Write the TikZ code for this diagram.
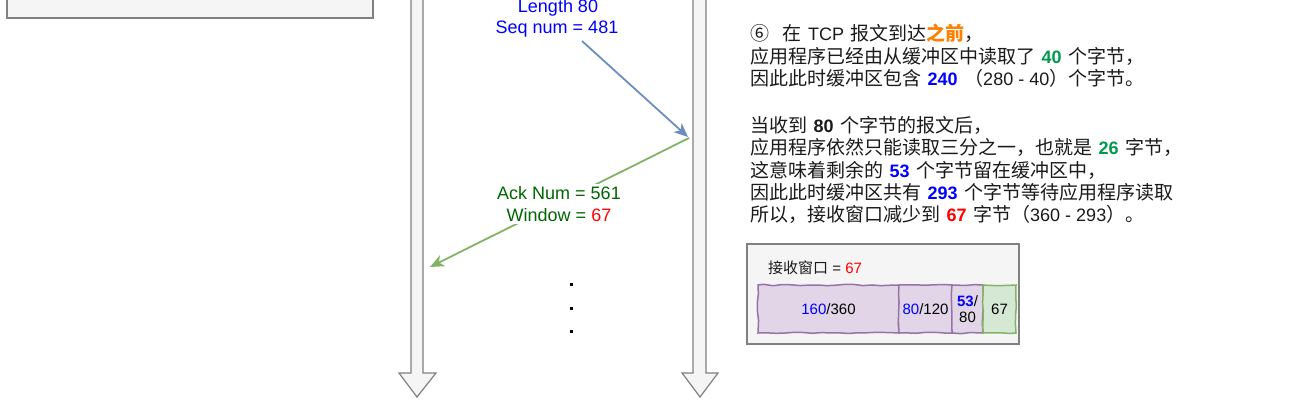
\documentclass[tikz,border=0pt]{standalone}
\usepackage{fontspec}
\setmainfont{Liberation Sans}
\newfontfamily\cjk{Noto Sans CJK SC}
\usetikzlibrary{arrows.meta,decorations.pathmorphing}
\definecolor{lblue}{HTML}{6C8EBF}
\definecolor{lgreen}{HTML}{82B366}
\definecolor{dgreen}{HTML}{006600}
\definecolor{tgreen}{HTML}{00994D}
\definecolor{torange}{HTML}{FF8000}
\definecolor{pfill}{HTML}{E1D5E7}
\definecolor{pdraw}{HTML}{9673A6}
\definecolor{gfill}{HTML}{D5E8D4}
\definecolor{tlfill}{HTML}{F5F5F5}
\definecolor{tldraw}{HTML}{808080}
\definecolor{txt}{HTML}{1A1A1A}
\newcommand\ltn[1]{{\fontsize{18}{22}\selectfont\rmfamily #1}}
\newcommand\hl[2]{{\fontsize{18}{22}\selectfont\color{#1}\rmfamily\bfseries #2}}
\newcommand\gap{\hspace{6.5pt}}
\begin{document}
\begin{tikzpicture}[x=1pt,y=-1pt,
  timeline/.style={fill=tlfill,draw=tldraw,line width=1.2pt,line join=miter},
  msg/.style={line width=1.8pt},
  lbl/.style={font=\fontsize{18}{22}\selectfont, inner sep=0pt, align=center},
  para/.style={anchor=base west, inner sep=0pt, text=txt, font=\fontsize{19}{22}\selectfont\cjk},
  seg/.style={draw=pdraw, fill=pfill, line width=1.5pt, decorate,
    decoration={random steps,segment length=9pt,amplitude=0.7pt},
    inner sep=0pt, font=\fontsize{15}{16}\selectfont, align=center, minimum height=48pt}
]
\pgfmathsetseed{7}
\useasboundingbox (0,0) rectangle (1301,413);
\fill[white] (0,0) rectangle (1301,413);
% top-left box
\draw[fill=tlfill, draw=tldraw, line width=1.2pt] (7,-5) rectangle (373,18);
% timelines
\path[timeline] (411,-5) -- (411,373) -- (399,373) -- (417,397) -- (436,373) -- (423,373) -- (423,-5) -- cycle;
\path[timeline] (693,-5) -- (693,373) -- (682,373) -- (700,397) -- (718,373) -- (706,373) -- (706,-5) -- cycle;
% data segment
\node[lbl, text=blue] (len) at (558,7.5) {Length 80};
\node[lbl, text=blue] (seq) at (557,29) {Seq num = 481};
\coordinate (b1) at (582,41);
\coordinate (b2) at (688,137);
\draw[msg, lblue, -{Stealth[length=14pt,width=12pt,inset=4pt]}] (b1) -- (b2);
% ack
\coordinate (g1) at (689,138);
\coordinate (g2) at (430,267);
\draw[msg, lgreen, -{Stealth[length=14pt,width=12pt,inset=4pt]}] (g1) -- (g2);
\node[lbl, fill=white, inner sep=2pt, text=dgreen, align=center] (ack) at (559,204) {Ack Num = 561\\Window = {\color{red}67}};
% dots
\fill[black] (569.5,282.5) rectangle ++(3,3);
\fill[black] (569.5,306.5) rectangle ++(3,3);
\fill[black] (569.5,330) rectangle ++(3,3);
% explanation
\node[para] (p1) at (750,40.5) {⑥\hspace{0.7em}在\gap\ltn{TCP}\gap 报文到达{\color{torange}\bfseries 之前}，};
\node[para] (p2) at (750,63.0) {应用程序已经由从缓冲区中读取了\gap\hl{tgreen}{40}\gap 个字节，};
\node[para] (p3) at (750,85.5) {因此此时缓冲区包含\gap\hl{blue}{240}\gap（\ltn{280 - 40}）个字节。};
\node[para] (p4) at (750,132.0) {当收到\gap\hl{txt}{80}\gap 个字节的报文后，};
\node[para] (p5) at (750,154.5) {应用程序依然只能读取三分之一，也就是\gap\hl{tgreen}{26}\gap 字节，};
\node[para] (p6) at (750,177.0) {这意味着剩余的\gap\hl{blue}{53}\gap 个字节留在缓冲区中，};
\node[para] (p7) at (750,199.2) {因此此时缓冲区共有\gap\hl{blue}{293}\gap 个字节等待应用程序读取};
\node[para] (p8) at (750,221.5) {所以，接收窗口减少到\gap\hl{red}{67}\gap 字节（\ltn{360 - 293}）。};
% window box
\draw[fill=tlfill, draw=tldraw, line width=1.2pt] (747,244) rectangle (1019,344);
\node[anchor=west, inner sep=0pt, text=txt, font=\fontsize{15}{17}\selectfont] (wt) at (768,268) {{\cjk 接收窗口} = {\color{red}67}};
\node[seg, minimum width=141pt] (s1) at (828.5,309) {{\color{blue}160}/360};
\node[seg, minimum width=53pt] (s2) at (925.5,309) {{\color{blue}80}/120};
\node[seg, minimum width=31pt] (s3) at (967.5,309) {{\color{blue}\bfseries 53}/\\80};
\node[seg, minimum width=33pt, draw=lgreen, fill=gfill] (s4) at (999.5,309) {67};
\end{tikzpicture}
\end{document}
